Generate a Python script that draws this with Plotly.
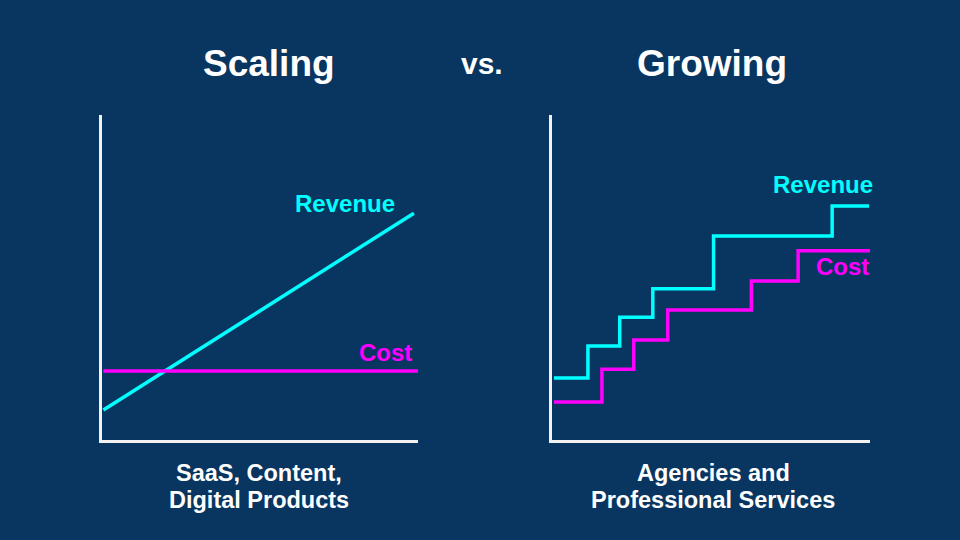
import plotly.graph_objects as go

# ---- data (arbitrary units, 0-100 on both axes) ----
scaling_x = [0.6, 98.7]
scaling_revenue = [9.2, 69.8]
scaling_cost_x = [0.6, 100.6]
scaling_cost = [21.2, 21.2]

growing_rev_x = [0.6, 11.3, 21.3, 31.7, 50.8, 88.1, 99.7]
growing_revenue = [19.1, 28.9, 37.8, 46.5, 62.8, 72.0, 72.0]
growing_cost_x = [0.6, 15.7, 25.7, 36.4, 62.7, 77.4, 100.0]
growing_cost = [11.7, 21.8, 30.8, 40.0, 48.9, 58.2, 58.2]

titles = ["Scaling", "vs.", "Growing"]
captions = [["SaaS, Content,", "Digital Products"], ["Agencies and", "Professional Services"]]

BG = "#083660"
CYAN = "#00FFFF"
MAGENTA = "#FF00FF"
FONT = "Liberation Sans, Arial, sans-serif"

fig = go.Figure()
fig.add_trace(go.Scatter(x=scaling_x, y=scaling_revenue, mode="lines",
                         line=dict(color=CYAN, width=3.5), xaxis="x", yaxis="y", cliponaxis=False))
fig.add_trace(go.Scatter(x=scaling_cost_x, y=scaling_cost, mode="lines",
                         line=dict(color=MAGENTA, width=3.5), xaxis="x", yaxis="y", cliponaxis=False))
fig.add_trace(go.Scatter(x=growing_rev_x, y=growing_revenue, mode="lines",
                         line=dict(color=CYAN, width=3.5, shape="hv"), xaxis="x2", yaxis="y2", cliponaxis=False))
fig.add_trace(go.Scatter(x=growing_cost_x, y=growing_cost, mode="lines",
                         line=dict(color=MAGENTA, width=3.5, shape="hv"), xaxis="x2", yaxis="y2", cliponaxis=False))

ax = dict(range=[0, 100], showgrid=False, zeroline=False, showticklabels=False, ticks="",
          showline=True, linecolor="#F2F2F2", linewidth=3, fixedrange=True)

ydom = [1 - 440 / 540, 1 - 115 / 540]
fig.update_layout(
    width=960, height=540,
    margin=dict(l=0, r=0, t=0, b=0),
    paper_bgcolor=BG, plot_bgcolor=BG,
    showlegend=False,
    xaxis=dict(ax, domain=[101.5 / 960, 418 / 960], anchor="y"),
    yaxis=dict(ax, domain=ydom, anchor="x"),
    xaxis2=dict(ax, domain=[552 / 960, 870 / 960], anchor="y2"),
    yaxis2=dict(ax, domain=ydom, anchor="x2"),
)

lab_font = lambda c: dict(family=FONT, size=24, color=c)
anns = [
    dict(x=77, y=72.9, xref="x", yref="y", text="<b>Revenue</b>", font=lab_font(CYAN)),
    dict(x=89.6, y=26.8, xref="x", yref="y", text="<b>Cost</b>", font=lab_font(MAGENTA)),
    dict(x=85.3, y=78.5, xref="x2", yref="y2", text="<b>Revenue</b>", font=lab_font(CYAN)),
    dict(x=91.5, y=53.5, xref="x2", yref="y2", text="<b>Cost</b>", font=lab_font(MAGENTA)),
]
title_pos = [(269, 37), (482, 30), (712, 37)]
for t, (px, sz) in zip(titles, title_pos):
    anns.append(dict(x=px / 960, y=1 - 63 / 540, xref="paper", yref="paper", text=f"<b>{t}</b>",
                     font=dict(family=FONT, size=sz, color="white")))
for lines, px in zip(captions, [259, 713]):
    for line, py in zip(lines, [473, 500]):
        anns.append(dict(x=px / 960, y=1 - py / 540, xref="paper", yref="paper", text=f"<b>{line}</b>",
                         font=dict(family=FONT, size=23.5, color="white")))
for a in anns:
    a.update(showarrow=False, xanchor="center", yanchor="middle")
fig.update_layout(annotations=anns)

fig.write_html("out.html")
